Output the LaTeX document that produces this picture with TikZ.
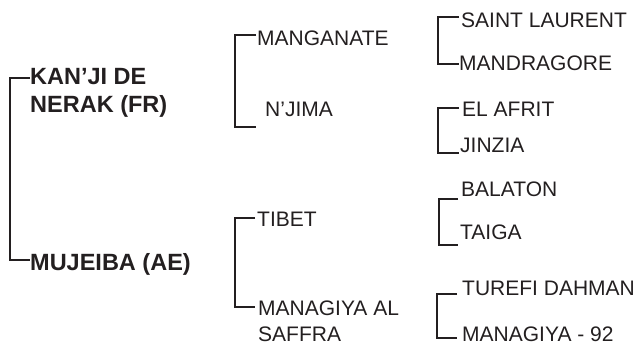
\documentclass[tikz,border=0pt]{standalone}
\usepackage{fontspec}
\setmainfont{Liberation Sans}
\definecolor{ink}{RGB}{35,31,32}
\begin{document}
\begin{tikzpicture}[x=1pt, y=-1pt,
  every node/.style={inner sep=0pt, anchor=base west, text=ink},
  taxon/.style={font=\fontsize{21}{25}\selectfont, align=left},
  group/.style={font=\fontsize{23.5}{28}\selectfont\bfseries, align=left},
  bracket/.style={draw=ink, line width=2.4pt}]
\useasboundingbox (0,0) rectangle (638,342);
% first level
\node[group] (kan) at (30,113) {KAN'JI DE\\NERAK (FR)};
\node[group] (mu) at (30,270) {MUJEIBA (AE)};

% second level
\node[taxon] (man) at (257,46) {MANGANATE};
\node[taxon] (nji) at (265,117) {N'JIMA};
\node[taxon] (tib) at (257,227) {TIBET};
\node[taxon] (mng) at (258,341) {MANAGIYA AL\\SAFFRA};

% third level
\node[taxon] (sai) at (461,28) {SAINT LAURENT};
\node[taxon] (mdr) at (459,71) {MANDRAGORE};
\node[taxon] (afr) at (462,117) {EL AFRIT};
\node[taxon] (jin) at (460,153) {JINZIA};
\node[taxon] (bal) at (461,197) {BALATON};
\node[taxon] (tai) at (460,240) {TAIGA};
\node[taxon] (tur) at (462,295) {TUREFI DAHMAN};
\node[taxon] (m92) at (462,341) {MANAGIYA - 92};

\draw[bracket] ([yshift=35pt]kan.base west) -- ++(-20,0) |- ([yshift=10pt]mu.base west);

\draw[bracket] ([xshift=-1pt,yshift=11pt]man.base west) -- ++(-21,0) |- ([xshift=-9pt,yshift=-10pt]nji.base west);
\draw[bracket] ([xshift=-2pt,yshift=9pt]tib.base west) -- ++(-20,0) |- ([xshift=-3pt,yshift=34pt]mng.base west);

\draw[bracket] ([xshift=-2pt,yshift=11pt]sai.base west) -- ++(-21,0) |- ([yshift=7pt]mdr.base west);
\draw[bracket] ([xshift=-3pt,yshift=9pt]afr.base west) -- ++(-21,0) |- ([xshift=-1pt]jin.base west);
\draw[bracket] ([xshift=-3pt,yshift=-2pt]bal.base west) -- ++(-19,0) |- ([xshift=-2pt,yshift=-5pt]tai.base west);
\draw[bracket] ([xshift=-5pt,yshift=1pt]tur.base west) -- ++(-20,0) |- ([xshift=-5pt,yshift=3pt]m92.base west);
\end{tikzpicture}
\end{document}
